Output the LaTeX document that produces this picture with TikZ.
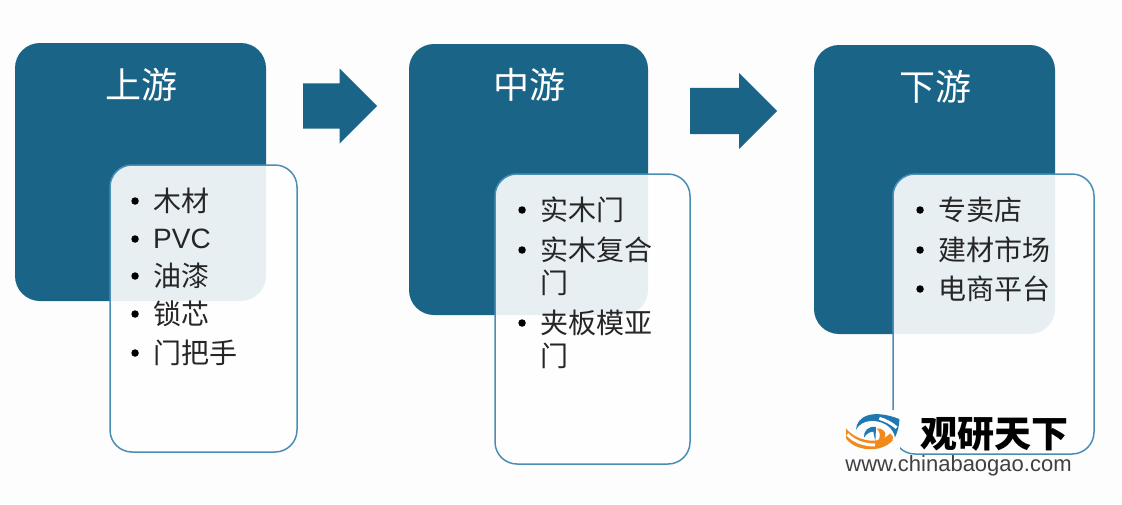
\documentclass[tikz,border=0pt]{standalone}
\usepackage{fontspec}
\usetikzlibrary{shapes.arrows}
\setmainfont{Noto Sans CJK SC}
\newfontfamily\latinfont{Liberation Sans}
\definecolor{pagetone}{HTML}{FDFDFE}
\definecolor{stageblue}{HTML}{1A6488}
\definecolor{edgeblue}{HTML}{4A8DB5}
\definecolor{logoblue}{HTML}{1F78B0}
\definecolor{logoorange}{HTML}{F08A1D}
\begin{document}
\begin{tikzpicture}[x=1pt,y=-1pt,
    stage/.style ={rectangle, fill=stageblue, rounded corners=25pt, inner sep=0pt},
    listbox/.style ={rectangle, draw=edgeblue, line width=1.5pt, fill=white, fill opacity=0.9, rounded corners=22pt, inner sep=0pt},
    title/.style ={text=white, font=\fontsize{36}{38}\selectfont, inner sep=0pt},
    flow/.style ={single arrow, fill=stageblue, inner xsep=0pt, inner ysep=0pt, single arrow head extend=15pt, anchor=tail},
    bulletdot/.style ={circle, fill=black, inner sep=0pt, minimum size=7.5pt},
    line/.style ={anchor=west, text=black!85, inner sep=0pt, font=\fontsize{28}{38}\selectfont},
    entry/.style ={line, label={[bulletdot,label distance=14pt]180:{}}}]
   \useasboundingbox[fill=pagetone] (0,0) rectangle (1122,504);
   \node[stage,minimum width=251pt,minimum height=258pt] (up) at (140.5,172) {};
   \node[stage,minimum width=239pt,minimum height=271pt] (mid) at (528.5,179.5) {};
   \node[stage,minimum width=241pt,minimum height=289pt] (down) at (934.5,189.5) {};
   \node[listbox,minimum width=187pt,minimum height=287pt] (upbox) at (203.5,308.5) {};
   \node[listbox,minimum width=195pt,minimum height=290pt] (midbox) at (592.5,319) {};
   \node[listbox,minimum width=201pt,minimum height=280pt] (downbox) at (993.5,314) {};
   \node[title] (uptitle) at (141,85) {上游};
   \node[title] (midtitle) at (529,85) {中游};
   \node[title] (downtitle) at (935,87) {下游};
   \node[flow,inner ysep=22.5pt,minimum height=74pt] (flowa) at (303,106) {};
   \node[flow,inner ysep=23pt,minimum height=87pt] (flowb) at (690,111) {};
   % upstream list
   \node[entry] (ua) at (153,201) {木材};
   \node[entry] (ub) at (153,239) {\latinfont PVC};
   \node[entry] (uc) at (153,276) {油漆};
   \node[entry] (ud) at (153,314) {锁芯};
   \node[entry] (ue) at (153,353) {门把手};
   % midstream list
   \node[entry] (ma) at (540,210) {实木门};
   \node[entry] (mb) at (540,250) {实木复合};
   \node[line] (mb2) at (540,283) {门};
   \node[entry] (mc) at (540,323) {夹板模亚};
   \node[line] (mc2) at (540,356) {门};
   % downstream list
   \node[entry] (da) at (938,210) {专卖店};
   \node[entry] (db) at (938,250) {建材市场};
   \node[entry] (dc) at (938,289) {电商平台};
   % logo
   \begin{scope}[shift={(840,405)},scale=0.3333]
     \fill[pagetone] (15,15) rectangle (180,140);
     \fill[logoblue] (48,74) .. controls (50,35) and (95,10) .. (178,42)
       .. controls (178,65) and (172,82) .. (165,97)
       .. controls (160,65) and (125,45) .. (90,48)
       .. controls (70,50) and (55,60) .. (48,74) -- cycle;
     \draw[white,line width=3pt] (118,40) .. controls (135,45) and (155,55) .. (170,68);
     \fill[logoblue] (72,98) .. controls (70,78) and (85,62) .. (108,66)
       -- (106,110) -- (100,80) .. controls (90,80) and (80,85) .. (72,98) -- cycle;
     \fill[logoorange] (110,70) .. controls (130,70) and (140,82) .. (135,95)
       .. controls (130,105) and (122,108) .. (114,108)
       .. controls (122,95) and (122,82) .. (110,70) -- cycle;
     \fill[logoorange] (18,70) .. controls (45,105) and (115,125) .. (150,85)
       .. controls (158,90) and (162,98) .. (158,106)
       .. controls (125,145) and (45,140) .. (18,100) -- cycle;
     \draw[white,line width=3pt] (22,88) .. controls (45,112) and (75,120) .. (105,120);
   \end{scope}
   \node[inner sep=0pt,font=\fontsize{37}{38}\selectfont\bfseries,text=black] (logotext) at (994,434) {观研天下};
   \node[inner sep=0pt,font=\latinfont\fontsize{22}{24}\selectfont,text=black!75] (logoweb) at (958.5,466) {www.chinabaogao.com};
 \end{tikzpicture}
\end{document}
